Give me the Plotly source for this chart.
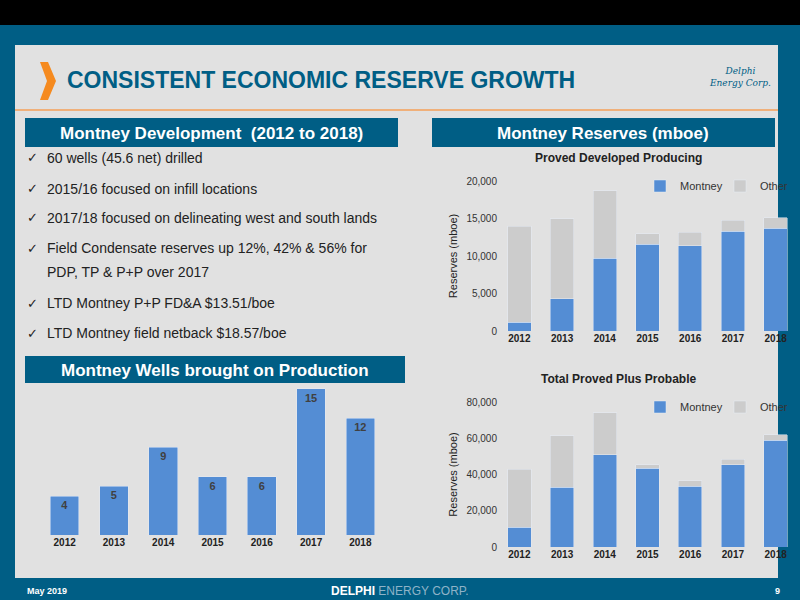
import plotly.graph_objects as go

years = ["2012", "2013", "2014", "2015", "2016", "2017", "2018"]
wells = [4, 5, 9, 6, 6, 15, 12]
pdp_montney = [1200, 4300, 9700, 11600, 11400, 13300, 13700]
pdp_other = [12800, 10700, 9000, 1400, 1800, 1500, 1400]
tpp_montney = [11000, 33000, 51000, 43500, 33500, 45500, 59000]
tpp_other = [32000, 28500, 23000, 2000, 3000, 3000, 3000]
bullets = [
    "60 wells (45.6 net) drilled",
    "2015/16 focused on infill locations",
    "2017/18 focused on delineating west and south lands",
    "Field Condensate reserves up 12%, 42% & 56% for",
    "PDP, TP & P+P over 2017",
    "LTD Montney P+P FD&A $13.51/boe",
    "LTD Montney field netback $18.57/boe",
]
bullet_y = [158, 189, 218, 248, 272, 303, 333]

BLUE = "#005e85"
BAR = "#548dd4"
GREY = "#cccccc"
FONT = "Liberation Sans"


def py(p):
    return 1 - p / 600


fig = go.Figure()
fig.add_trace(go.Bar(x=years, y=wells, marker_color=BAR, text=[f"<b>{w}</b>" for w in wells],
                     textposition="inside", insidetextanchor="end",
                     textfont=dict(color="#404040", size=11, family=FONT),
                     width=0.58, xaxis="x", yaxis="y", showlegend=False))
fig.add_trace(go.Bar(x=years, y=pdp_montney, name="Montney", marker_color=BAR, width=0.55,
                     xaxis="x2", yaxis="y2"))
fig.add_trace(go.Bar(x=years, y=pdp_other, name="Other", marker_color=GREY, width=0.55,
                     xaxis="x2", yaxis="y2"))
fig.add_trace(go.Bar(x=years, y=tpp_montney, name="Montney", marker_color=BAR, width=0.55,
                     xaxis="x3", yaxis="y3", legend="legend2"))
fig.add_trace(go.Bar(x=years, y=tpp_other, name="Other", marker_color=GREY, width=0.55,
                     xaxis="x3", yaxis="y3", legend="legend2"))

tick = dict(family=FONT, size=10, color="#333")
xax = dict(showgrid=False, zeroline=False, showline=False, ticks="",
           tickvals=years, ticktext=[f"<b>{y}</b>" for y in years],
           tickfont=dict(family=FONT, size=10, color="#222"))
shapes = [
    dict(type="rect", x0=0, x1=1, y0=py(25), y1=py(0), fillcolor="black"),
    dict(type="rect", x0=15 / 800, x1=778 / 800, y0=py(578), y1=py(45), fillcolor="#e1e1e1"),
    dict(type="line", x0=15 / 800, x1=778 / 800, y0=py(110), y1=py(110), line=dict(color="#f0b07a", width=2)),
    dict(type="path",
         path=f"M {40/800},{py(62)} L {48/800},{py(62)} L {56/800},{py(81)} L {48/800},{py(100)} "
              f"L {40/800},{py(100)} L {47/800},{py(81)} Z",
         fillcolor="#f58a1f"),
]
for x0, x1, y0, y1 in [(25, 398, 118, 147), (432, 775, 118, 147), (25, 405, 356, 383)]:
    shapes.append(dict(type="rect", x0=x0 / 800, x1=x1 / 800, y0=py(y1), y1=py(y0), fillcolor=BLUE))
for s in shapes:
    s.update(xref="paper", yref="paper", layer="below")
    if s["type"] != "line":
        s["line"] = dict(width=0)

ann = [
    dict(x=65 / 800, y=py(80), text="<b>CONSISTENT ECONOMIC RESERVE GROWTH</b>", xanchor="left",
         font=dict(family=FONT, size=23, color=BLUE)),
    dict(x=211 / 800, y=py(133), text="<b>Montney Development  (2012 to 2018)</b>",
         font=dict(family=FONT, size=17, color="white")),
    dict(x=603 / 800, y=py(133), text="<b>Montney Reserves (mboe)</b>", font=dict(family=FONT, size=17, color="white")),
    dict(x=215 / 800, y=py(370), text="<b>Montney Wells brought on Production</b>",
         font=dict(family=FONT, size=17, color="white")),
    dict(x=618 / 800, y=py(158), text="<b>Proved Developed Producing</b>", font=dict(family=FONT, size=12, color="#222")),
    dict(x=618 / 800, y=py(379), text="<b>Total Proved Plus Probable</b>", font=dict(family=FONT, size=12, color="#222")),
    dict(x=25 / 800, y=py(591), text="<b>May 2019</b>", xanchor="left", font=dict(family=FONT, size=9, color="white")),
    dict(x=400 / 800, y=py(591), text="<b>DELPHI</b> <span style='color:#8fb3c8'>ENERGY CORP.</span>",
         font=dict(family=FONT, size=12, color="white")),
    dict(x=782 / 800, y=py(591), text="<b>9</b>", xanchor="right", font=dict(family=FONT, size=9, color="white")),
    dict(x=740 / 800, y=py(77), text="<i>Delphi<br>Energy Corp.</i>", font=dict(family="DejaVu Serif", size=9, color=BLUE)),
]
for t, y in zip(bullets, bullet_y):
    if not t.startswith("PDP"):
        ann.append(dict(x=25 / 800, y=py(y), text="✓", xanchor="left",
                        font=dict(family="DejaVu Sans", size=13, color="#222")))
    ann.append(dict(x=45 / 800, y=py(y), text=t, xanchor="left", font=dict(family=FONT, size=14, color="#222")))
for a in ann:
    a.update(xref="paper", yref="paper", showarrow=False)
    a.setdefault("yanchor", "middle")
    a.setdefault("xanchor", "center")

ytitle = dict(text="Reserves (mboe)", font=dict(family=FONT, size=11, color="#222"), standoff=6)
legend_base = dict(xanchor="left", yanchor="middle", orientation="h", traceorder="normal",
                   bgcolor="rgba(0,0,0,0)", font=dict(family=FONT, size=11, color="#333"),
                   itemwidth=30, entrywidth=35)

fig.update_layout(
    width=800, height=600, margin=dict(l=0, r=0, t=0, b=0, autoexpand=False),
    paper_bgcolor=BLUE, plot_bgcolor="rgba(0,0,0,0)", barmode="stack",
    shapes=shapes, annotations=ann,
    xaxis=dict(domain=[40 / 800, 385 / 800], anchor="y", **xax),
    yaxis=dict(domain=[py(535), py(385)], range=[0, 15.4], visible=False, anchor="x"),
    xaxis2=dict(domain=[498 / 800, 797 / 800], anchor="y2", **xax),
    yaxis2=dict(domain=[py(331), py(181)], range=[0, 20000], tickvals=[0, 5000, 10000, 15000, 20000],
                tickformat=",", showgrid=False, zeroline=False, tickfont=tick, anchor="x2", title=ytitle),
    xaxis3=dict(domain=[498 / 800, 797 / 800], anchor="y3", **xax),
    yaxis3=dict(domain=[py(547), py(402)], range=[0, 80000], tickvals=[0, 20000, 40000, 60000, 80000],
                tickformat=",", showgrid=False, zeroline=False, tickfont=tick, anchor="x3", title=ytitle),
    legend=dict(x=640 / 800, y=py(186), **legend_base),
    legend2=dict(x=640 / 800, y=py(407), **legend_base),
)

fig.write_html("out.html", config={"displayModeBar": False},
               post_script="document.body.style.margin='0';")
